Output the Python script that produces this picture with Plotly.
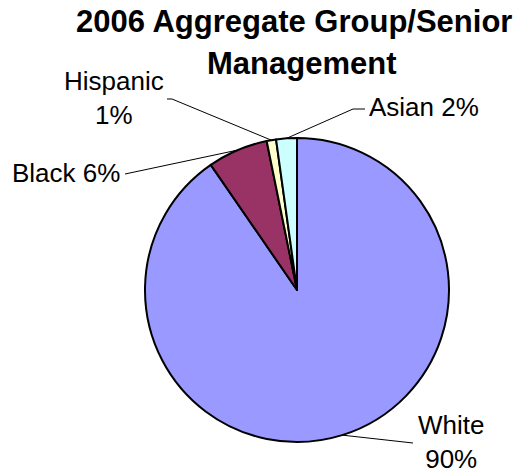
import math
import plotly.graph_objects as go

# ---- data ----
groups = ["White", "Black", "Hispanic", "Asian"]
values = [90.4, 6.4, 1.0, 2.2]
pct_labels = ["90%", "6%", "1%", "2%"]
colors = ["#9999FF", "#993366", "#FFFFCC", "#CCFFFF"]
title_lines = ["2006 Aggregate Group/Senior", "Management"]

W, H = 531, 473
CX, CY, R = 297, 290, 152  # pie centre / radius in px


def px(x):
    return x / W


def py(y):
    return 1 - y / H


fig = go.Figure(go.Pie(
    labels=groups,
    values=values,
    marker=dict(colors=colors, line=dict(color="black", width=2)),
    sort=False,
    direction="clockwise",
    rotation=0,
    textinfo="none",
    hoverinfo="label+percent",
    showlegend=False,
    domain=dict(x=[px(CX - R), px(CX + R)], y=[py(CY + R), py(CY - R)]),
))

# mid angles of slices (clockwise from 12 o'clock), from the data
total = sum(values)
mids = []
cum = 0
for v in values:
    mids.append((cum + v / 2) / total * 2 * math.pi)
    cum += v


def edge(i):
    a = mids[i]
    return CX + R * math.sin(a), CY - R * math.cos(a)


# label layout: (text, x, y, xanchor, leader-start points)
label_text = {
    "White": "White<br>" + pct_labels[0],
    "Black": "Black " + pct_labels[1],
    "Hispanic": "Hispanic<br>" + pct_labels[2],
    "Asian": "Asian " + pct_labels[3],
}
label_pos = {
    "White": (451, 442, "center"),
    "Black": (122, 173, "right"),
    "Hispanic": (114, 98, "center"),
    "Asian": (367, 107, "left"),
}
leader_start = {
    "White": [(413, 443)],
    "Black": [(125, 174)],
    "Hispanic": [(167, 99), (172, 99)],
    "Asian": [(365, 109), (353, 109)],
}

font_lbl = dict(family="Liberation Sans, Arial, sans-serif", size=26, color="black")
annotations = []
shapes = []
for i, g in enumerate(groups):
    x, y, xa = label_pos[g]
    annotations.append(dict(
        text=label_text[g], x=px(x), y=py(y), xref="paper", yref="paper",
        xanchor=xa, yanchor="middle", showarrow=False, font=font_lbl, align="center",
    ))
    pts = leader_start[g] + [edge(i)]
    path = "M " + " L ".join(f"{px(a)},{py(b)}" for a, b in pts)
    shapes.append(dict(type="path", path=path, xref="paper", yref="paper",
                       line=dict(color="black", width=1)))

font_title = dict(family="Liberation Sans, Arial, sans-serif", size=31, color="black")
annotations.append(dict(text="<b>" + title_lines[0] + "</b>", x=px(294), y=py(21),
                        xref="paper", yref="paper", xanchor="center", yanchor="middle",
                        showarrow=False, font=font_title))
annotations.append(dict(text="<b>" + title_lines[1] + "</b>", x=px(301), y=py(64),
                        xref="paper", yref="paper", xanchor="center", yanchor="middle",
                        showarrow=False, font=font_title))

fig.update_layout(
    width=W, height=H,
    margin=dict(l=0, r=0, t=0, b=0),
    paper_bgcolor="white", plot_bgcolor="white",
    annotations=annotations, shapes=shapes,
)

fig.write_html("out.html")
